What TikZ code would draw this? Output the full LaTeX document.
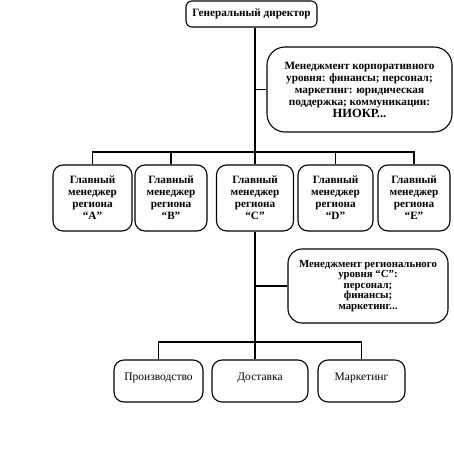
\documentclass[tikz,border=0pt]{standalone}
\usepackage{fontspec}
\setmainfont{Liberation Serif}
\begin{document}
\begin{tikzpicture}[x=1pt,y=-1pt,
  box/.style={draw,line width=1.1pt,rounded corners=#1,align=center,inner sep=1pt,
    font=\fontsize{11.2}{12}\selectfont\bfseries},
  box/.default=10pt,
  ln/.style={line width=1.1pt}]
\useasboundingbox (0,0) rectangle (453,471);
\node[box=6pt,minimum width=131pt,minimum height=26pt] (top) at (251.5,14) {Генеральный директор};
\node[box=18pt,minimum width=185pt,minimum height=85pt] (corp) at (359.5,89.5)
  {Менеджмент корпоративного\\уровня: финансы; персонал;\\маркетинг: юридическая\\поддержка; коммуникации:\\{\fontsize{12.5}{12}\selectfont НИОКР...}};
\node[box,minimum width=79pt,minimum height=66pt] (A) at (92.5,198) {Главный\\менеджер\\региона\\“A”};
\node[box,minimum width=72pt,minimum height=66pt] (B) at (171,198) {Главный\\менеджер\\региона\\“B”};
\node[box,minimum width=77pt,minimum height=66pt] (C) at (255,198) {Главный\\менеджер\\региона\\“C”};
\node[box,minimum width=75pt,minimum height=66pt] (D) at (335.5,198) {Главный\\менеджер\\региона\\“D”};
\node[box,minimum width=72pt,minimum height=66pt] (E) at (414,198) {Главный\\менеджер\\региона\\“E”};
\node[box=14pt,minimum width=160pt,minimum height=74pt,font=\fontsize{10.8}{10.6}\selectfont\bfseries] (reg) at (368,286)
  {Менеджмент регионального\\уровня “C”:\\персонал;\\финансы;\\маркетинг...};
\tikzset{low/.style={box,minimum height=42pt,text depth=9pt,font=\fontsize{11.5}{12}\selectfont}}
\node[low,minimum width=89pt] (prod) at (158.5,381) {Производство};
\node[low,minimum width=96pt] (dost) at (260,381) {Доставка};
\node[low,minimum width=87pt] (mark) at (361.5,381) {Маркетинг};
\coordinate (bar1) at (0,152);
\coordinate (bar2) at (0,342);
% trunk top
\draw[ln] (C.north |- top.south) -- (C.north);
\draw[ln] (C.north |- corp.west) -- (corp.west);
\draw[ln] (A.north) -- (A.north |- bar1) -- (E.north |- bar1) -- (E.north);
\draw[ln] (B.north |- bar1) -- (B.north);
\draw[ln] (D.north |- bar1) -- (D.north);
% lower trunk
\draw[ln] (C.south) -- (C.south |- dost.north);
\draw[ln] (C.south |- reg.west) -- (reg.west);
\draw[ln] (prod.north) -- (prod.north |- bar2) -- (mark.north |- bar2) -- (mark.north);
\end{tikzpicture}
\end{document}
